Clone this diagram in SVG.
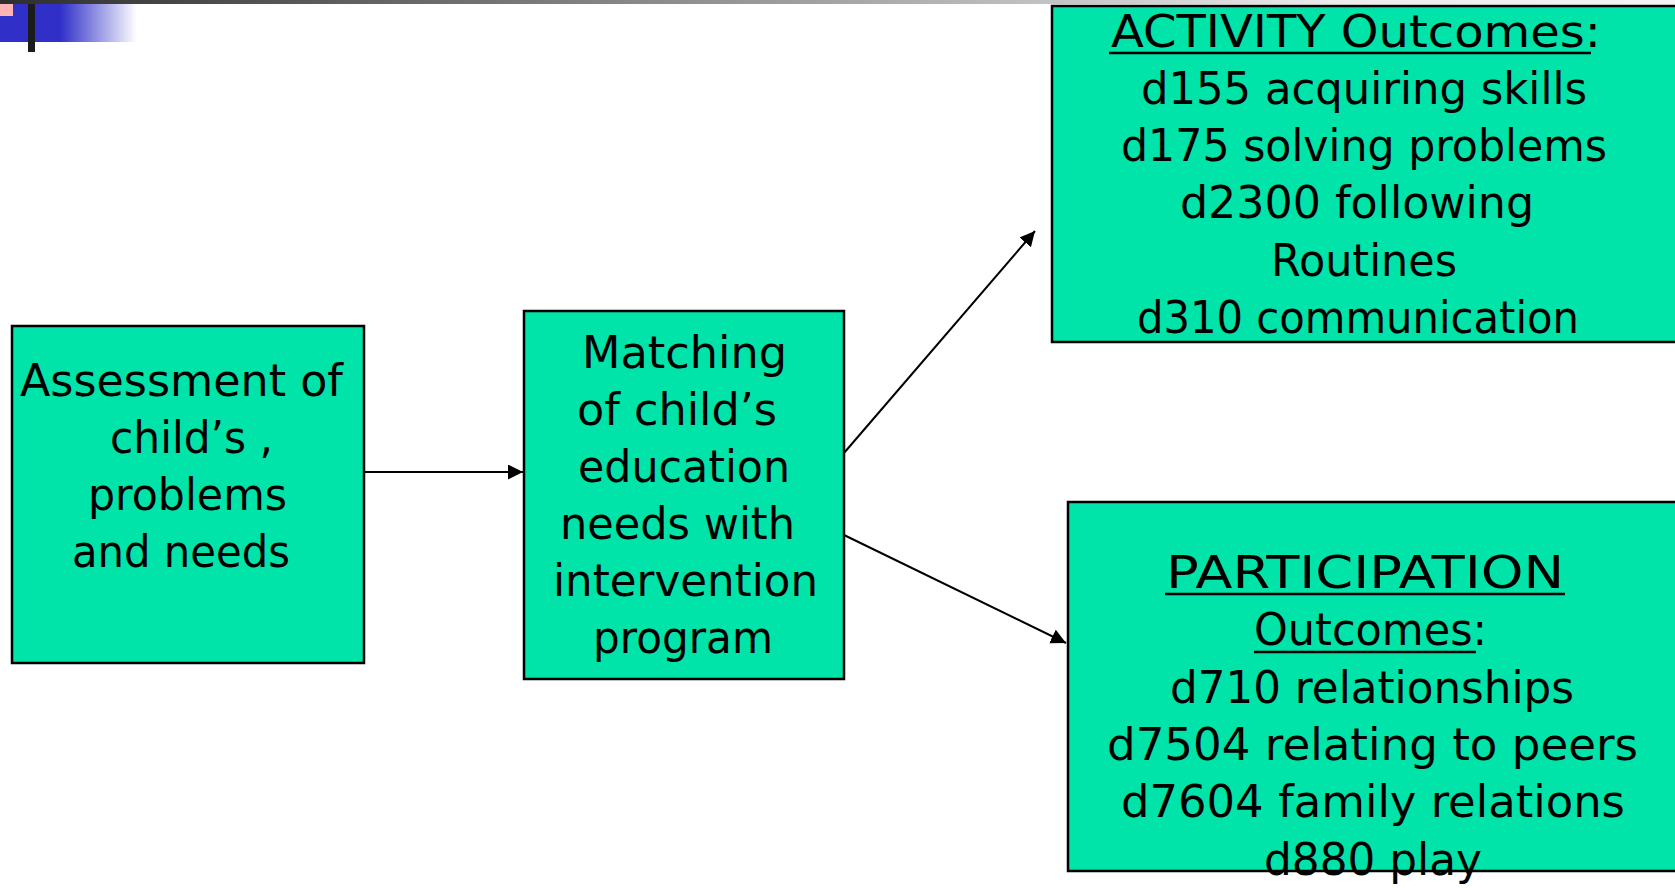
<svg xmlns="http://www.w3.org/2000/svg" width="1675" height="888" viewBox="0 0 1675 888">
<defs>
<style>
.box{fill:#00e3a9;stroke:#000;stroke-width:2.5}
.t{font-family:"DejaVu Sans","Liberation Sans",sans-serif;font-size:44px;fill:#000}
.ul{stroke:#000;stroke-width:2.5}
.conn{stroke:#000;stroke-width:2;fill:none}
</style>
<linearGradient id="topbar" x1="0" y1="0" x2="1675" y2="0" gradientUnits="userSpaceOnUse">
<stop offset="0" stop-color="#2e2e2e"/>
<stop offset="0.8" stop-color="#ececec"/>
<stop offset="1" stop-color="#f4f4f4"/>
</linearGradient>
<linearGradient id="blue" x1="0" y1="0" x2="137" y2="0" gradientUnits="userSpaceOnUse">
<stop offset="0" stop-color="#3030c8"/>
<stop offset="0.44" stop-color="#3030c8"/>
<stop offset="1" stop-color="#3030c8" stop-opacity="0"/>
</linearGradient>
<marker id="arr" markerUnits="userSpaceOnUse" markerWidth="16" markerHeight="16" refX="15" refY="7.5" orient="auto">
<path d="M0,0 L15,7.5 L0,15 Z" fill="#000"/>
</marker>
</defs>
<rect width="1675" height="888" fill="#fff"/>
<g id="decoration">
<rect x="0" y="0" width="1675" height="4" fill="url(#topbar)"/>
<rect x="0" y="4" width="137" height="38" fill="url(#blue)"/>
<rect x="0" y="4" width="13" height="12" fill="#ffb3b3"/>
<rect x="28" y="4" width="7" height="48" fill="#1c1c1c"/>
</g>
<g id="connectors">
<line class="conn" x1="364" y1="472" x2="523" y2="472" marker-end="url(#arr)"/>
<line class="conn" x1="844" y1="453" x2="1035" y2="231" marker-end="url(#arr)"/>
<line class="conn" x1="844" y1="535" x2="1066" y2="643" marker-end="url(#arr)"/>
</g>
<g id="assessment">
<rect class="box" x="12" y="326" width="352" height="337"/>
<text class="t" x="20" y="396" textLength="323" lengthAdjust="spacingAndGlyphs">Assessment of</text>
<text class="t" x="110" y="453" textLength="163" lengthAdjust="spacingAndGlyphs">child’s ,</text>
<text class="t" x="88" y="510" textLength="199" lengthAdjust="spacingAndGlyphs">problems</text>
<text class="t" x="72" y="567" textLength="218" lengthAdjust="spacingAndGlyphs">and needs</text>
</g>
<g id="matching">
<rect class="box" x="524" y="311" width="320" height="368"/>
<text class="t" x="582" y="368" textLength="205" lengthAdjust="spacingAndGlyphs">Matching</text>
<text class="t" x="577" y="425" textLength="200" lengthAdjust="spacingAndGlyphs">of child’s</text>
<text class="t" x="578" y="482" textLength="212" lengthAdjust="spacingAndGlyphs">education</text>
<text class="t" x="560" y="539" textLength="235" lengthAdjust="spacingAndGlyphs">needs with</text>
<text class="t" x="553" y="596" textLength="265" lengthAdjust="spacingAndGlyphs">intervention</text>
<text class="t" x="593" y="653" textLength="180" lengthAdjust="spacingAndGlyphs">program</text>
</g>
<g id="activity">
<rect class="box" x="1052" y="6" width="640" height="336"/>
<text class="t" x="1111" y="47" textLength="490" lengthAdjust="spacingAndGlyphs">ACTIVITY Outcomes:</text>
<line class="ul" x1="1109" y1="53" x2="1591" y2="53"/>
<text class="t" x="1141" y="104" textLength="446" lengthAdjust="spacingAndGlyphs">d155 acquiring skills</text>
<text class="t" x="1121" y="161" textLength="486" lengthAdjust="spacingAndGlyphs">d175 solving problems</text>
<text class="t" x="1180" y="218" textLength="354" lengthAdjust="spacingAndGlyphs">d2300 following</text>
<text class="t" x="1271" y="276" textLength="186" lengthAdjust="spacingAndGlyphs">Routines</text>
<text class="t" x="1137" y="333" textLength="442" lengthAdjust="spacingAndGlyphs">d310 communication</text>
</g>
<g id="participation">
<rect class="box" x="1068" y="502" width="620" height="369"/>
<text class="t" x="1166" y="588" textLength="398" lengthAdjust="spacingAndGlyphs">PARTICIPATION</text>
<line class="ul" x1="1165" y1="594" x2="1565" y2="594"/>
<text class="t" x="1254" y="645" textLength="233" lengthAdjust="spacingAndGlyphs">Outcomes:</text>
<line class="ul" x1="1254" y1="652" x2="1476" y2="652"/>
<text class="t" x="1170" y="703" textLength="404" lengthAdjust="spacingAndGlyphs">d710 relationships</text>
<text class="t" x="1107" y="760" textLength="531" lengthAdjust="spacingAndGlyphs">d7504 relating to peers</text>
<text class="t" x="1121" y="817" textLength="504" lengthAdjust="spacingAndGlyphs">d7604 family relations</text>
<text class="t" x="1264" y="875" textLength="218" lengthAdjust="spacingAndGlyphs">d880 play</text>
</g>
</svg>
